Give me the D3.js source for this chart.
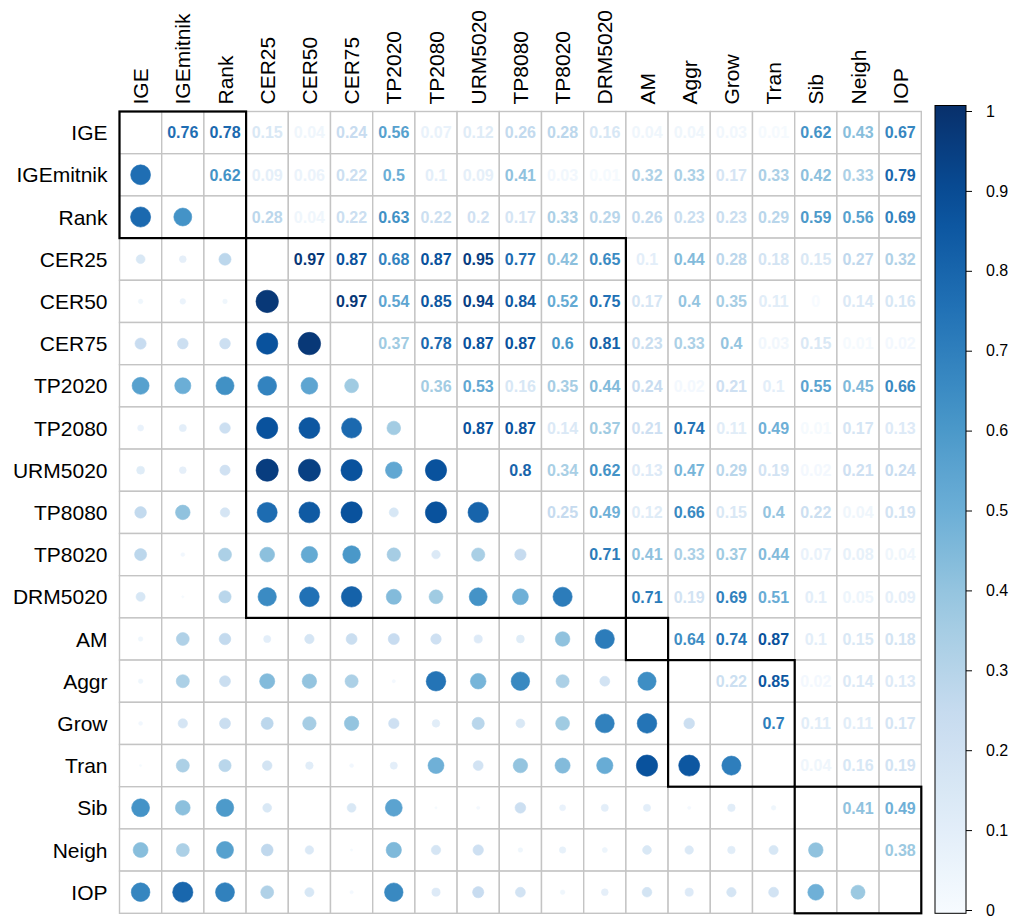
<!DOCTYPE html>
<html>
<head>
<meta charset="utf-8">
<script src="https://cdn.jsdelivr.net/npm/d3@7"></script>
<style>
  html, body { margin: 0; padding: 0; background: #fff; }
  svg { display: block; font-family: "Liberation Sans", Arial, sans-serif; }
</style>
</head>
<body>
<svg id="chart" width="1023" height="920"></svg>
<script>
// ---- data ----
const variables = ["IGE","IGEmitnik","Rank","CER25","CER50","CER75","TP2020","TP2080","URM5020","TP8080","TP8020","DRM5020","AM","Aggr","Grow","Tran","Sib","Neigh","IOP"];
// upper triangle, row i lists correlations with columns i+1 .. end
const upperRows = [
  [0.76,0.78,0.15,0.04,0.24,0.56,0.07,0.12,0.26,0.28,0.16,0.04,0.04,0.03,0.01,0.62,0.43,0.67],
  [0.62,0.09,0.06,0.22,0.5,0.1,0.09,0.41,0.03,0.01,0.32,0.33,0.17,0.33,0.42,0.33,0.79],
  [0.28,0.04,0.22,0.63,0.22,0.2,0.17,0.33,0.29,0.26,0.23,0.23,0.29,0.59,0.56,0.69],
  [0.97,0.87,0.68,0.87,0.95,0.77,0.42,0.65,0.1,0.44,0.28,0.18,0.15,0.27,0.32],
  [0.97,0.54,0.85,0.94,0.84,0.52,0.75,0.17,0.4,0.35,0.11,0,0.14,0.16],
  [0.37,0.78,0.87,0.87,0.6,0.81,0.23,0.33,0.4,0.03,0.15,0.01,0.02],
  [0.36,0.53,0.16,0.35,0.44,0.24,0.02,0.21,0.1,0.55,0.45,0.66],
  [0.87,0.87,0.14,0.37,0.21,0.74,0.11,0.49,0.01,0.17,0.13],
  [0.8,0.34,0.62,0.13,0.47,0.29,0.19,0.02,0.21,0.24],
  [0.25,0.49,0.12,0.66,0.15,0.4,0.22,0.04,0.19],
  [0.71,0.41,0.33,0.37,0.44,0.07,0.08,0.04],
  [0.71,0.19,0.69,0.51,0.1,0.05,0.09],
  [0.64,0.74,0.87,0.1,0.15,0.18],
  [0.22,0.85,0.02,0.14,0.13],
  [0.7,0.11,0.11,0.17],
  [0.04,0.16,0.19],
  [0.41,0.49],
  [0.38]
];
// cluster rectangles: [first variable, last variable]
const clusters = [["IGE","Rank"],["CER25","DRM5020"],["AM","AM"],["Aggr","Tran"],["Sib","IOP"]];
const legendTicks = [0,0.1,0.2,0.3,0.4,0.5,0.6,0.7,0.8,0.9,1];
const paletteColors = ["#F7FBFF","#DEEBF7","#C6DBEF","#9ECAE1","#6BAED6","#4292C6","#2171B5","#08519C","#08306B"];

// ---- build cells ----
const cells = [];
upperRows.forEach((row, i) => {
  row.forEach((v, k) => {
    const j = i + 1 + k;
    cells.push({row: variables[i], col: variables[j], value: v, type: "number"});
    cells.push({row: variables[j], col: variables[i], value: v, type: "circle"});
  });
});

const svg = d3.select("#chart");
const x0 = 119.5, y0 = 111.5, cell = 42.2;
const n = variables.length;

const x = d3.scaleBand().domain(variables).range([x0, x0 + n * cell]);
const y = d3.scaleBand().domain(variables).range([y0, y0 + n * cell]);
const color = d3.scaleLinear()
  .domain(paletteColors.map((c, i) => i / (paletteColors.length - 1)))
  .range(paletteColors)
  .interpolate(d3.interpolateRgb);
const radius = d3.scaleSqrt().domain([0, 1]).range([0, 11.4]);

// grid
const gridG = svg.append("g");
gridG.selectAll("rect.cellbg")
  .data(d3.cross(variables, variables))
  .join("rect")
  .attr("x", d => x(d[1]))
  .attr("y", d => y(d[0]))
  .attr("width", x.bandwidth())
  .attr("height", y.bandwidth())
  .attr("fill", "#fff")
  .attr("stroke", "#c4c4c4")
  .attr("stroke-width", 1.4);

// circles (lower)
svg.append("g").selectAll("circle")
  .data(cells.filter(d => d.type === "circle"))
  .join("circle")
  .attr("cx", d => x(d.col) + x.bandwidth() / 2)
  .attr("cy", d => y(d.row) + y.bandwidth() / 2)
  .attr("r", d => radius(Math.abs(d.value)))
  .attr("fill", d => color(Math.abs(d.value)))
  .attr("stroke", d => color(Math.abs(d.value)))
  .attr("stroke-width", 0.6);

// numbers (upper)
svg.append("g").selectAll("text")
  .data(cells.filter(d => d.type === "number"))
  .join("text")
  .attr("x", d => x(d.col) + x.bandwidth() / 2)
  .attr("y", d => y(d.row) + y.bandwidth() / 2)
  .attr("dy", "0.36em")
  .attr("text-anchor", "middle")
  .attr("font-size", 16)
  .attr("font-weight", "bold")
  .attr("fill", d => color(Math.abs(d.value)))
  .text(d => String(d.value));

// cluster rectangles
svg.append("g").selectAll("rect")
  .data(clusters)
  .join("rect")
  .attr("x", d => x(d[0]))
  .attr("y", d => y(d[0]))
  .attr("width", d => x(d[1]) + x.bandwidth() - x(d[0]))
  .attr("height", d => y(d[1]) + y.bandwidth() - y(d[0]))
  .attr("fill", "none")
  .attr("stroke", "#000")
  .attr("stroke-width", 2.2);

// row labels
svg.append("g").selectAll("text")
  .data(variables)
  .join("text")
  .attr("x", x0 - 12)
  .attr("y", d => y(d) + y.bandwidth() / 2)
  .attr("dy", "0.36em")
  .attr("text-anchor", "end")
  .attr("font-size", 21)
  .attr("fill", "#000")
  .text(d => d);

// column labels
svg.append("g").selectAll("text")
  .data(variables)
  .join("text")
  .attr("transform", d => `translate(${x(d) + x.bandwidth() / 2},${y0 - 7}) rotate(-90)`)
  .attr("dy", "0.36em")
  .attr("text-anchor", "start")
  .attr("font-size", 21)
  .attr("fill", "#000")
  .text(d => d);

// color legend
const lx = 935, lw = 31;
const barScale = d3.scaleLinear().domain([0, 1]).range([y0 + n * cell, y0 - 6]);
const ly = d3.scaleLinear().domain([0, 1]).range([910, 111]);
const defs = svg.append("defs");
const grad = defs.append("linearGradient").attr("id", "lg")
  .attr("x1", "0").attr("y1", "1").attr("x2", "0").attr("y2", "0");
d3.range(0, 1.0001, 0.05).forEach(t => {
  grad.append("stop").attr("offset", t).attr("stop-color", color(t));
});
svg.append("rect")
  .attr("x", lx).attr("y", barScale(1))
  .attr("width", lw).attr("height", barScale(0) - barScale(1))
  .attr("fill", "url(#lg)")
  .attr("stroke", "#000").attr("stroke-width", 1);

const legendAxis = d3.axisRight(ly).tickValues(legendTicks).tickSize(6).tickPadding(14)
  .tickFormat(d => String(d));
const ag = svg.append("g").attr("transform", `translate(${lx + lw},0)`).call(legendAxis);
ag.select(".domain").remove();
ag.selectAll("text").attr("font-size", 16).attr("font-family", "'Liberation Sans', Arial, sans-serif").attr("fill", "#000");
ag.selectAll("line").attr("stroke", "#000");
</script>
</body>
</html>
